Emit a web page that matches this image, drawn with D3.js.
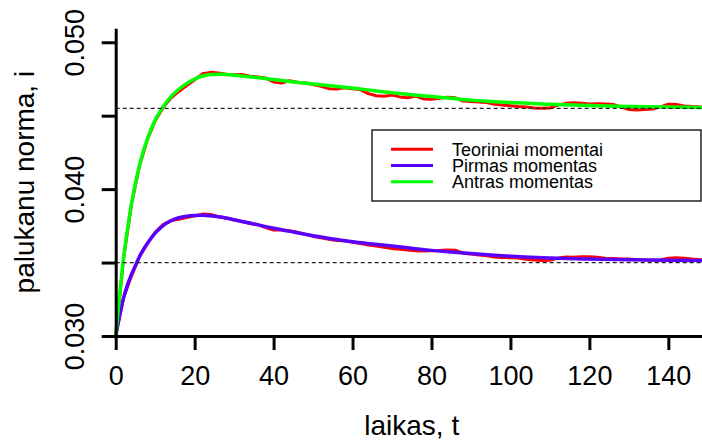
<!DOCTYPE html>
<html>
<head>
<meta charset="utf-8">
<script src="https://cdn.jsdelivr.net/npm/d3@7"></script>
<style>
  body { margin: 0; background: #fff; }
  svg { display: block; font-family: 'Liberation Sans', Arial, sans-serif; }
</style>
</head>
<body>
<svg id="chart"></svg>
<script>
// time grid of the smooth (moment) curves
const tSmooth = [0, 1, 2, 3, 4, 5, 6, 8, 10, 12, 14, 16, 18, 20, 22, 24, 27, 30, 35, 40, 45, 50,
  55, 60, 65, 70, 75, 80, 85, 90, 95, 100, 110, 120, 130, 140, 150]
const antrasUpper = [0.0300, 0.0328, 0.0353, 0.0373, 0.0390, 0.0404, 0.0416, 0.0434, 0.0447, 0.0456,
  0.0463, 0.0468, 0.0472, 0.0475, 0.0477, 0.0478, 0.04782, 0.04776, 0.04762, 0.04746, 0.04730,
  0.04716, 0.04702, 0.04688, 0.04672, 0.04656, 0.04642, 0.04630, 0.04618, 0.04606, 0.04597,
  0.04589, 0.04578, 0.04569, 0.04563, 0.04559, 0.04556]
const pirmasLower = [0.0300, 0.0314, 0.0326, 0.0335, 0.0342, 0.0348, 0.0354, 0.0363, 0.03700, 0.03752,
  0.03785, 0.03805, 0.03816, 0.03821, 0.03822, 0.03818, 0.03808, 0.03792, 0.03763, 0.03734, 0.03708,
  0.03683, 0.03660, 0.03642, 0.03627, 0.03612, 0.03597, 0.03583, 0.03572, 0.03561, 0.03551,
  0.03543, 0.03531, 0.03524, 0.03519, 0.03515, 0.03513]

// time grid of the simulated (theoretical) curves
const tSim = [0, 2, 4, 6, 8, 10, 12, 14, 16, 18, 20, 22, 24, 26, 28, 30, 32, 34, 36, 38, 40, 42, 44,
  46, 48, 50, 52, 54, 56, 58, 60, 62, 64, 66, 68, 70, 72, 74, 76, 78, 80, 82, 84, 86, 88, 90, 92,
  94, 96, 98, 100, 102, 104, 106, 108, 110, 112, 114, 116, 118, 120, 122, 124, 126, 128, 130, 132,
  134, 136, 138, 140, 142, 144, 146, 148, 150]
const teorUpper = [0.03000, 0.03530, 0.03895, 0.04155, 0.04335, 0.04465, 0.04555, 0.04620, 0.04665,
  0.04705, 0.04745, 0.04785, 0.04795, 0.04790, 0.04782, 0.04778, 0.04780, 0.04768, 0.04764, 0.04756,
  0.04730, 0.04722, 0.04738, 0.04728, 0.04722, 0.04712, 0.04700, 0.04684, 0.04682, 0.04690, 0.04684,
  0.04678, 0.04650, 0.04636, 0.04632, 0.04640, 0.04628, 0.04622, 0.04634, 0.04614, 0.04612, 0.04618,
  0.04626, 0.04622, 0.04600, 0.04596, 0.04594, 0.04590, 0.04578, 0.04572, 0.04568, 0.04562, 0.04560,
  0.04552, 0.04550, 0.04552, 0.04572, 0.04584, 0.04588, 0.04584, 0.04580, 0.04582, 0.04580, 0.04576,
  0.04560, 0.04542, 0.04538, 0.04542, 0.04545, 0.04560, 0.04578, 0.04576, 0.04566, 0.04562, 0.04560,
  0.04558]
const teorLower = [0.03000, 0.03262, 0.03408, 0.03538, 0.03628, 0.03706, 0.03758, 0.03786, 0.03795,
  0.03806, 0.03818, 0.03830, 0.03828, 0.03812, 0.03804, 0.03790, 0.03780, 0.03766, 0.03758, 0.03738,
  0.03722, 0.03722, 0.03716, 0.03706, 0.03692, 0.03678, 0.03668, 0.03658, 0.03650, 0.03648, 0.03638,
  0.03630, 0.03620, 0.03612, 0.03604, 0.03596, 0.03590, 0.03586, 0.03580, 0.03578, 0.03580, 0.03582,
  0.03586, 0.03584, 0.03564, 0.03558, 0.03552, 0.03546, 0.03538, 0.03534, 0.03532, 0.03531, 0.03522,
  0.03518, 0.03514, 0.03516, 0.03530, 0.03538, 0.03537, 0.03540, 0.03539, 0.03536, 0.03530, 0.03528,
  0.03525, 0.03524, 0.03520, 0.03517, 0.03516, 0.03518, 0.03530, 0.03533, 0.03530, 0.03524, 0.03520,
  0.03518]

const limits = [0.0455, 0.035]
const xTicks = [0, 20, 40, 60, 80, 100, 120, 140]
const yTicks = [0.030, 0.035, 0.040, 0.045, 0.050]
const yLabelled = [0.030, 0.040, 0.050]
const legendNames = ['Teoriniai momentai', 'Pirmas momentas', 'Antras momentas']
const legendColors = ['#ff0000', '#5a00ff', '#00ff00']

const width = 702
const height = 445
const plot = { left: 115.7, right: 707.8, top: 28.3, bottom: 336 }

const svg = d3.select('#chart')
  .attr('width', width)
  .attr('height', height)

const x = d3.scaleLinear()
  .domain([0, 150])
  .range([plot.left, plot.right])
const y = d3.scaleLinear()
  .domain([0.030, 0.05095])
  .range([plot.bottom, plot.top])

const simLine = d3.line()
  .x((d) => x(d[0]))
  .y((d) => y(d[1]))
const smoothLine = d3.line()
  .x((d) => x(d[0]))
  .y((d) => y(d[1]))
  .curve(d3.curveMonotoneX)

const curves = svg.append('g').classed('curves', true)
;[teorUpper, teorLower].forEach((vals) => {
  curves.append('path')
    .datum(tSim.map((t, i) => [t, vals[i]]))
    .attr('d', simLine)
    .attr('fill', 'none')
    .attr('stroke', legendColors[0])
    .attr('stroke-width', 3)
    .attr('stroke-linejoin', 'round')
})
curves.append('path')
  .datum(tSmooth.map((t, i) => [t, pirmasLower[i]]))
  .attr('d', smoothLine)
  .attr('fill', 'none')
  .attr('stroke', legendColors[1])
  .attr('stroke-width', 3.5)
curves.append('path')
  .datum(tSmooth.map((t, i) => [t, antrasUpper[i]]))
  .attr('d', smoothLine)
  .attr('fill', 'none')
  .attr('stroke', legendColors[2])
  .attr('stroke-width', 3.5)

svg.append('g')
  .classed('limits', true)
  .selectAll('line')
  .data(limits)
  .enter()
  .append('line')
  .attr('x1', plot.left)
  .attr('x2', plot.right)
  .attr('y1', (d) => y(d))
  .attr('y2', (d) => y(d))
  .attr('stroke', '#222')
  .attr('stroke-width', 1.2)
  .attr('stroke-dasharray', '4,3')

// axes
const xAxis = d3.axisBottom(x)
  .tickValues(xTicks)
  .tickSize(14)
  .tickSizeOuter(0)
  .tickPadding(16)
svg.append('g')
  .classed('x-axis', true)
  .attr('transform', 'translate(0,' + plot.bottom + ')')
  .call(xAxis)

const yAxis = d3.axisLeft(y)
  .tickValues(yTicks)
  .tickSize(14)
  .tickSizeOuter(0)
  .tickFormat((d) => yLabelled.some((v) => Math.abs(v - d) < 1e-9) ? d3.format('.3f')(d) : '')
svg.append('g')
  .classed('y-axis', true)
  .attr('transform', 'translate(' + plot.left + ',0)')
  .call(yAxis)

svg.selectAll('.x-axis path.domain, .y-axis path.domain, .tick line')
  .attr('stroke', '#000')
  .attr('stroke-width', 3)
svg.selectAll('.x-axis .tick text')
  .attr('font-size', 27)
  .attr('font-family', 'Liberation Sans, Arial, sans-serif')
  .attr('fill', '#000')
  .attr('dy', null)
  .attr('y', 49)
svg.selectAll('.y-axis .tick text')
  .attr('font-size', 27)
  .attr('font-family', 'Liberation Sans, Arial, sans-serif')
  .attr('fill', '#000')
  .attr('text-anchor', 'middle')
  .attr('x', null)
  .attr('dy', null)
  .attr('transform', 'translate(-32,0) rotate(-90)')

svg.append('text')
  .text('laikas, t')
  .attr('x', (plot.left + plot.right) / 2)
  .attr('y', 435)
  .attr('text-anchor', 'middle')
  .attr('font-size', 28)
svg.append('text')
  .text('palukanu norma, i')
  .attr('transform', 'translate(34,' + (plot.top + plot.bottom) / 2 + ') rotate(-90)')
  .attr('text-anchor', 'middle')
  .attr('font-size', 28)

// legend
const legend = svg.append('g')
  .classed('legend', true)
legend.append('rect')
  .attr('x', 372)
  .attr('y', 130)
  .attr('width', 329)
  .attr('height', 71)
  .attr('fill', '#fff')
  .attr('stroke', '#000')
  .attr('stroke-width', 1.3)
const items = legend.selectAll('g.item')
  .data(legendNames)
  .enter()
  .append('g')
  .classed('item', true)
  .attr('transform', (d, i) => 'translate(0,' + (149.3 + i * 16.2) + ')')
items.append('line')
  .attr('x1', 391)
  .attr('x2', 433)
  .attr('stroke', (d, i) => legendColors[i])
  .attr('stroke-width', 3)
items.append('text')
  .text((d) => d)
  .attr('x', 452)
  .attr('y', 6.5)
  .attr('font-size', 18)
</script>
</body>
</html>
